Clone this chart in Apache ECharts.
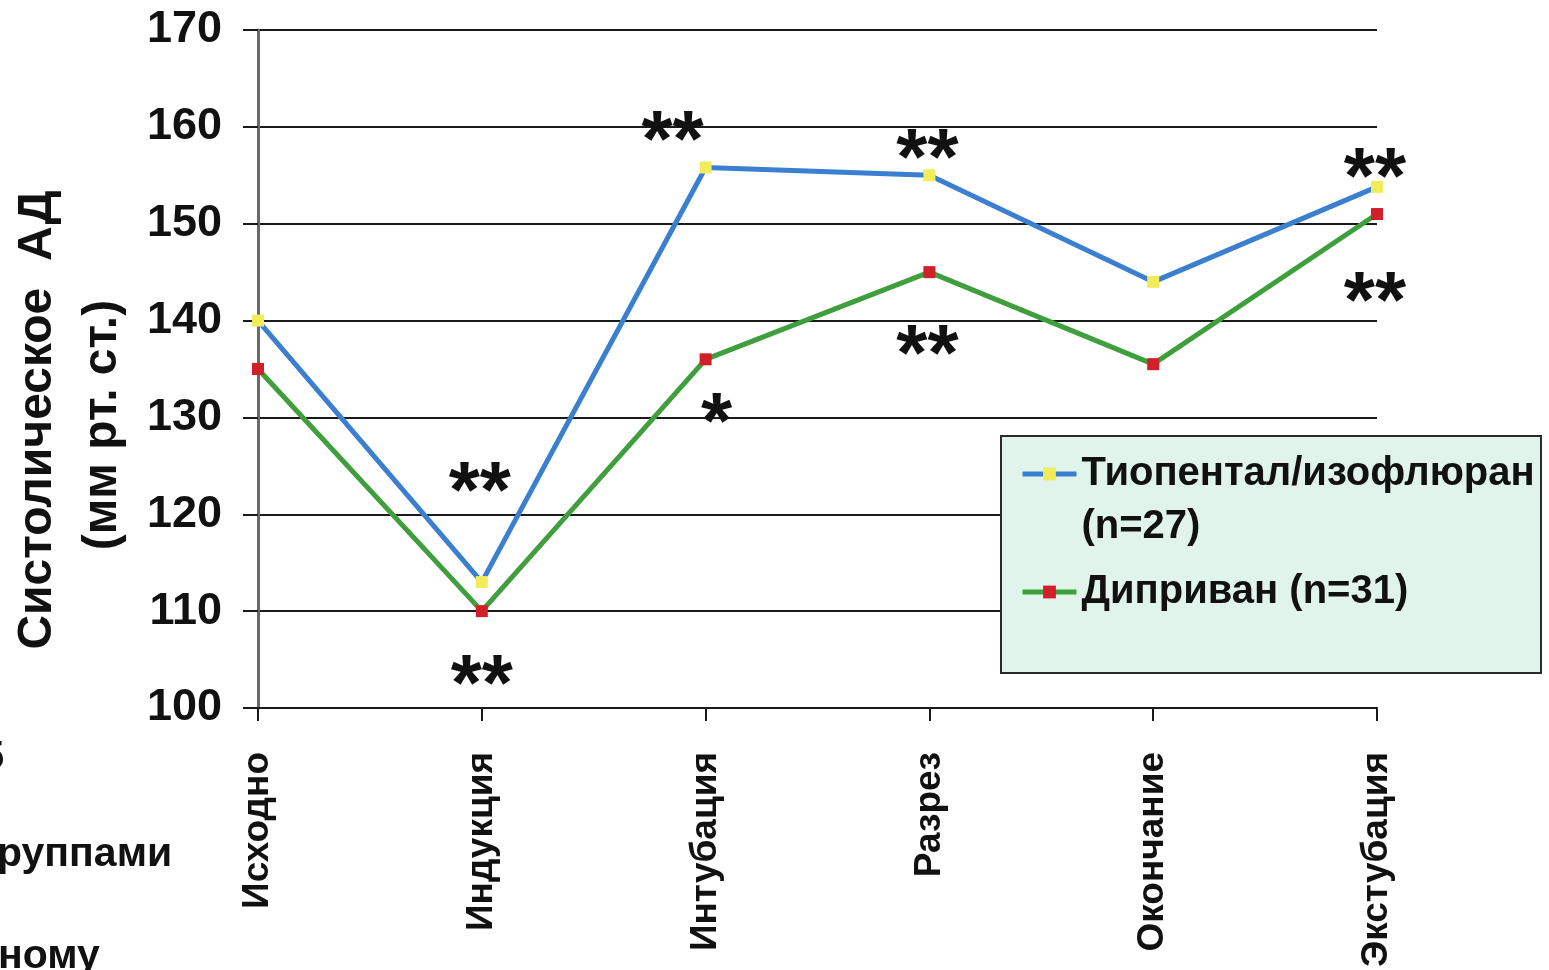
<!DOCTYPE html>
<html>
<head>
<meta charset="utf-8">
<script src="https://cdn.jsdelivr.net/npm/echarts@6/dist/echarts.min.js"></script>
<style>
  html, body { margin: 0; padding: 0; background: #ffffff; }
  #chart { width: 1549px; height: 970px; }
</style>
</head>
<body>
<div id="chart"></div>
<script>
// Stages of anaesthesia
const categories = ['Исходно', 'Индукция', 'Интубация', 'Разрез', 'Окончание', 'Экстубация'];

// Systolic blood pressure, mm Hg
const thiopental = [140, 113, 155.8, 155, 144, 153.8];
const diprivan   = [135, 110, 136, 145, 135.5, 151];

// Significance marks shown next to each point
const thiopentalMarks = ['', '**', '**', '**', '', '**'];
const diprivanMarks   = ['', '**', '*',  '**', '', '**'];

// Axis range
const yMin = 100, yMax = 170, yStep = 10;

const seriesNames = ['Тиопентал/изофлюран (n=27)', 'Диприван (n=31)'];
const yTitle = ['Систолическое  АД', '(мм рт. ст.)'];

// Offsets of the asterisk glyphs from their points (layout only)
const GLYPH = 19;
const thiopentalOffsets = [[0, 0], [-2, -106], [-33, -43], [-2, -32], [0, 0], [-2, -25]];
const diprivanOffsets   = [[0, 0], [0, 58],    [11, 48],   [-2, 67],  [0, 0], [-2, 72]];

const FONT = "'Liberation Sans', Arial, sans-serif";

function pointsWithMarks(values, marks, offsets) {
  return values.map((v, i) => ({
    value: v,
    label: {
      show: marks[i] !== '',
      formatter: marks[i],
      position: 'inside',
      offset: [offsets[i][0], offsets[i][1] + GLYPH],
      fontFamily: FONT,
      fontWeight: 'bold',
      fontSize: 80,
      color: '#111'
    }
  }));
}

const chart = echarts.init(document.getElementById('chart'), null, { renderer: 'canvas' });

const legendText = {
  fontFamily: FONT,
  fontWeight: 'bold',
  fontSize: 40,
  lineHeight: 53,
  color: '#111'
};

chart.setOption({
  backgroundColor: '#ffffff',
  animation: false,
  grid: {
    left: 258, right: 172, top: 30, bottom: 262,
    containLabel: false,
    outerBoundsMode: 'none'
  },
  xAxis: {
    type: 'category',
    data: categories,
    boundaryGap: false,
    axisLine: { show: true, lineStyle: { color: '#1a1a1a', width: 2 } },
    axisTick: { show: true, length: 13, lineStyle: { color: '#1a1a1a', width: 2 } },
    axisLabel: {
      rotate: 90,
      margin: 44,
      fontFamily: FONT,
      fontWeight: 'bold',
      fontSize: 37,
      color: '#111'
    },
    splitLine: { show: false }
  },
  yAxis: {
    type: 'value',
    min: yMin,
    max: yMax,
    interval: yStep,
    axisLine: { show: true, lineStyle: { color: '#6a6a6a', width: 3 } },
    axisTick: { show: true, length: 15, lineStyle: { color: '#1a1a1a', width: 2 } },
    axisLabel: {
      margin: 36,
      fontFamily: FONT,
      fontWeight: 'bold',
      fontSize: 45,
      color: '#111'
    },
    splitLine: { show: true, lineStyle: { color: '#1a1a1a', width: 2 } }
  },
  legend: [
    {
      z: 20,
      orient: 'vertical',
      left: 1020,
      top: 394.5,
      padding: 0,
      itemWidth: 54,
      itemHeight: 16,
      itemGap: 0,
      data: [seriesNames[0]],
      lineStyle: { width: 5 },
      formatter: () => '\nТиопентал/изофлюран\n(n=27)',
      textStyle: legendText
    },
    {
      z: 20,
      orient: 'vertical',
      left: 1020,
      top: 565.5,
      padding: 0,
      itemWidth: 54,
      itemHeight: 16,
      itemGap: 0,
      data: [seriesNames[1]],
      lineStyle: { width: 5 },
      textStyle: legendText
    }
  ],
  graphic: [
    {
      type: 'rect',
      z: 10,
      shape: { x: 1001, y: 436, width: 540, height: 237 },
      style: { fill: '#e0f4ec', stroke: '#2a2a2a', lineWidth: 2 }
    },
    {
      type: 'text', x: 38, y: 420, rotation: Math.PI / 2, z: 10,
      style: {
        text: yTitle[0], font: "bold 48px 'Liberation Sans', Arial",
        fill: '#111', align: 'center', verticalAlign: 'middle'
      }
    },
    {
      type: 'text', x: 103, y: 425, rotation: Math.PI / 2, z: 10,
      style: {
        text: yTitle[1], font: "bold 48px 'Liberation Sans', Arial",
        fill: '#111', align: 'center', verticalAlign: 'middle'
      }
    },
    {
      type: 'text', left: -18, top: 738, z: 10,
      style: { text: '5', font: "bold 40px 'Liberation Sans', Arial", fill: '#111' }
    },
    {
      type: 'text', left: -3, top: 834, z: 10,
      style: { text: 'руппами', font: "bold 41px 'Liberation Sans', Arial", fill: '#111' }
    },
    {
      type: 'text', left: -2, top: 936, z: 10,
      style: { text: 'ному', font: "bold 41px 'Liberation Sans', Arial", fill: '#111' }
    }
  ],
  series: [
    {
      name: seriesNames[0],
      type: 'line',
      data: pointsWithMarks(thiopental, thiopentalMarks, thiopentalOffsets),
      symbol: 'rect',
      symbolSize: 12,
      showAllSymbol: true,
      clip: false,
      z: 5,
      lineStyle: { color: '#3a7fd0', width: 5 },
      itemStyle: { color: '#f1ec5a' }
    },
    {
      name: seriesNames[1],
      type: 'line',
      data: pointsWithMarks(diprivan, diprivanMarks, diprivanOffsets),
      symbol: 'rect',
      symbolSize: 12,
      showAllSymbol: true,
      clip: false,
      z: 4,
      lineStyle: { color: '#3f9f3d', width: 5 },
      itemStyle: { color: '#d2202b' }
    }
  ]
});
</script>
</body>
</html>
